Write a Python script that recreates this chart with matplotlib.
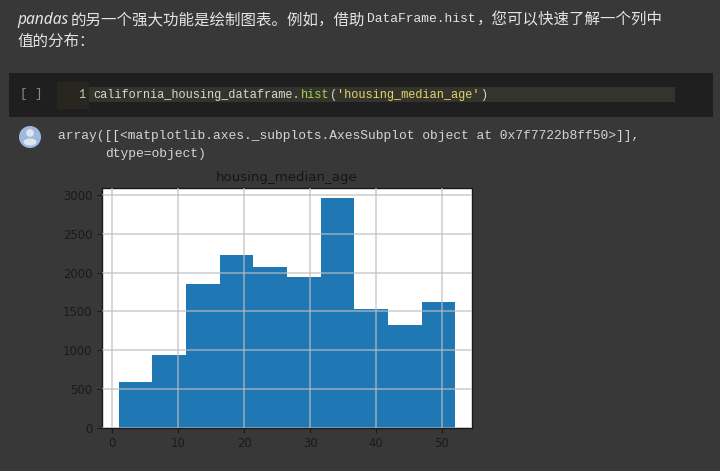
#!/usr/bin/python3
import matplotlib
matplotlib.use('Agg')
import matplotlib.pyplot as plt
from matplotlib.patches import Rectangle, Circle, Ellipse

W, H = 720, 471
BG = '#383838'

# histogram
bin_start = 1.0
bin_width = 5.1
counts = [585, 941, 1852, 2222, 2067, 1946, 2955, 1530, 1324, 1620]
xticks = [0, 10, 20, 30, 40, 50]
yticks = [0, 500, 1000, 1500, 2000, 2500, 3000]
chart_title = 'housing_median_age'

bin_lefts = [bin_start + i * bin_width for i in range(len(counts))]

intro_1 = [('pandas', 17, 'sans', 'italic'), ('的另一个强大功能是绘制图表。例如，借助', 71, 'cjk', 'normal'),
           ('DataFrame.hist', 367, 'mono', 'normal'), ('，您可以快速了解一个列中', 477, 'cjk', 'normal')]
intro_2 = '值的分布：'
code_parts = [("california_housing_dataframe.", 93, '#d8d8d8'), ("hist", 301, '#a6d64a'),
              ("(", 330, '#d8d8d8'), ("'housing_median_age'", 337, '#e6d36f'), (")", 480, '#d8d8d8')]
out_1 = 'array([[<matplotlib.axes._subplots.AxesSubplot object at 0x7f7722b8ff50>]],'
out_2 = 'dtype=object)'

fig = plt.figure(figsize=(W / 100, H / 100), dpi=100, facecolor=BG)

# page furniture, in pixel coords
bg = fig.add_axes([0, 0, 1, 1])
bg.set_xlim(0, W)
bg.set_ylim(H, 0)
bg.axis('off')

cjk = ['Noto Sans CJK SC', 'DejaVu Sans']
mono = ['Liberation Mono', 'DejaVu Sans Mono']
fonts = {'cjk': cjk, 'sans': ['Noto Sans', 'DejaVu Sans'], 'mono': mono}

for txt, x, fam, style in intro_1:
    size = 9.4 if fam == 'mono' else 11.15
    bg.text(x, 19.5, txt, family=fonts[fam], style=style, fontsize=size, color='#e4e4e4', va='center')
bg.text(17, 41.5, intro_2, family=cjk, fontsize=11.15, color='#e4e4e4', va='center')

bg.add_patch(Rectangle((9, 73), 704, 44, fc='#1f1f1f', ec='none'))
bg.add_patch(Rectangle((57, 82), 32, 27, fc='#27271f', ec='none'))
bg.add_patch(Rectangle((89, 87), 586, 15, fc='#33342c', ec='none'))
bg.text(20, 94, '[ ]', family=mono, fontsize=9, color='#8a8a8a', va='center')
bg.text(85, 94.5, '1', family=mono, fontsize=8.6, color='#c8c8c8', va='center', ha='right')
for txt, x, col in code_parts:
    bg.text(x, 95, txt, family=mono, fontsize=8.6, color=col, va='center')

bg.add_patch(Circle((30, 137), 11, fc='#9fb9dc', ec='none'))
bg.add_patch(Circle((30, 133), 3.8, fc='#dfe6f0', ec='none'))
bg.add_patch(Ellipse((30, 142), 13, 7, fc='#dfe6f0', ec='none'))
bg.text(58, 136, out_1, family=mono, fontsize=9.35, color='#d4d4d4', va='center')
bg.text(105, 154.5, out_2, family=mono, fontsize=9.35, color='#d4d4d4', va='center')

# the histogram
ax = fig.add_axes([102 / W, 1 - 427.7 / H, 370 / W, 240 / H], facecolor='white')
ax.bar(bin_lefts, counts, width=bin_width, align='edge', color='#1f77b4', zorder=2)
ax.grid(True, color='#bdbdbd', linewidth=1.2, alpha=0.71, zorder=3)
ax.set_axisbelow(False)
ax.set_xlim(-1.55, 54.55)
ax.set_ylim(0, 3094)
ax.set_xticks(xticks)
ax.set_yticks(yticks)
ax.tick_params(colors='#1a1a1a', labelsize=8.4, length=3.5, width=0.8)
for s in ax.spines.values():
    s.set_color('#1a1a1a')
    s.set_linewidth(1.0)
ax.set_title(chart_title, fontsize=9.6, color='#151515', pad=5)

fig.savefig('out.png', dpi=100, facecolor=BG)
